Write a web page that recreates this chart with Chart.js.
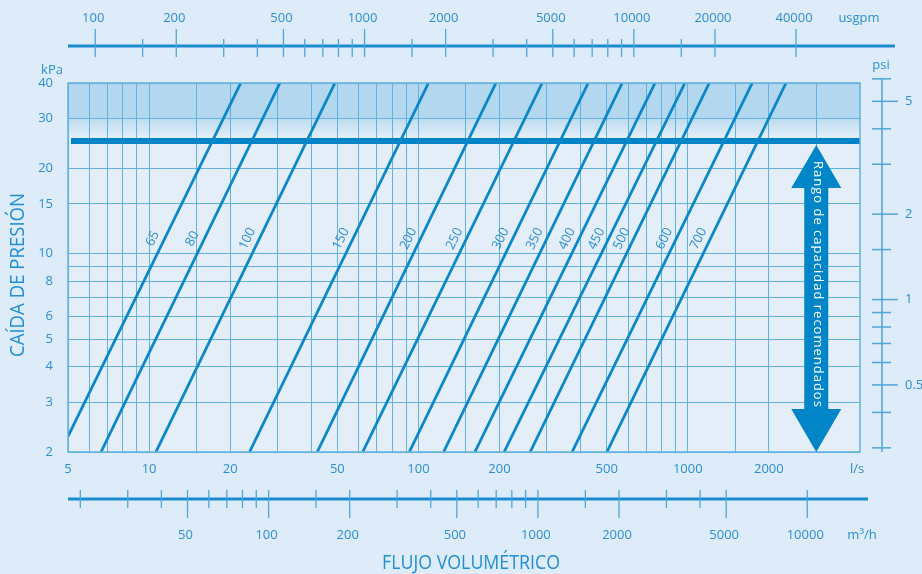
<!DOCTYPE html>
<html>
<head>
<meta charset="utf-8">
<script src="https://cdn.jsdelivr.net/npm/chart.js@4.4.1/dist/chart.umd.min.js"></script>
<style>
  html, body { margin: 0; padding: 0; background: #deebf8; }
  #caja { width: 922px; height: 574px; }
</style>
</head>
<body>
<div id="caja"><canvas id="graficoPresion" width="922" height="574"></canvas></div>
<script>
// Tamaños (DN) de cada recta del ábaco
const tamanos = ['65', '80', '100', '150', '200', '250', '300', '350', '400', '450', '500', '600', '700'];
// Punto inicial de cada recta (l/s y kPa)
const caudalInicio = [5, 6.63, 10.6, 23.6, 42.1, 62.1, 92.5, 124, 162, 208, 260, 372, 501];
const presionInicio = [2.27, 2, 2, 2, 2, 2, 2, 2, 2, 2, 2, 2, 2];
// Punto final de cada recta (arriba del gráfico, 40 kPa)
const caudalFin = [21.9, 30.6, 49.0, 109, 194, 288, 427, 571, 756, 976, 1202, 1736, 2316];
const presionFin = [40, 40, 40, 40, 40, 40, 40, 40, 40, 40, 40, 40, 40];

// Línea gruesa del límite recomendado (kPa)
const presionLimite = 25;
const caudalLimite = [5.13, 4360];
// Posición de la flecha "Rango de capacidad recomendados" (l/s)
const caudalFlecha = 3000;
// Presión donde se escriben los tamaños
const presionEtiqueta = 11.3;

// Eje l/s (abajo) y kPa (izquierda)
const limitesCaudal = [5, 4360];
const limitesPresion = [2, 40];
const rejillaCaudal = [5, 6, 7, 8, 9, 10, 15, 20, 30, 40, 50, 60, 70, 80, 90, 100, 150, 200, 300, 400, 500, 600, 700, 800, 900, 1000, 1500, 2000, 3000];
const etiquetasCaudal = [5, 10, 20, 50, 100, 200, 500, 1000, 2000];
const rejillaPresion = [2, 3, 4, 5, 6, 7, 8, 9, 10, 15, 20, 30, 40];
const etiquetasPresion = [2, 3, 4, 5, 6, 8, 10, 15, 20, 30, 40];

// Eje usgpm (arriba)
const usgpmMayores = [100, 200, 500, 1000, 2000, 5000, 10000, 20000, 40000];
const usgpmMenores = [150, 300, 400, 600, 700, 800, 900, 1500, 3000, 4000, 6000, 7000, 8000, 9000, 15000];
// Eje m3/h (abajo)
const m3hMayores = [50, 100, 200, 500, 1000, 2000, 5000, 10000];
const m3hMenores = [20, 30, 40, 60, 70, 80, 90, 150, 300, 400, 600, 700, 800, 900, 1500, 3000, 4000];
// Eje psi (derecha)
const psiMayores = [0.5, 1, 2, 5];
const psiMenores = [0.3, 0.4, 0.6, 0.7, 0.8, 0.9, 1.5, 3, 4, 6];

const AZUL = '#0a87c9';
const TEXTO = '#2a8fd3';
const REJILLA = '#62b2e0';
const FUENTE = "'Open Sans', 'Noto Sans', sans-serif";

// Conjuntos de datos: una recta por tamaño
const conjuntos = tamanos.map((t, i) => ({
    label: 'DN ' + t,
    data: [{ x: caudalInicio[i], y: presionInicio[i] }, { x: caudalFin[i], y: presionFin[i] }],
    borderColor: AZUL,
    borderWidth: 2.8,
    pointRadius: 0
}));
conjuntos.push({
    label: 'Límite',
    data: [{ x: caudalLimite[0], y: presionLimite }, { x: caudalLimite[1], y: presionLimite }],
    borderColor: '#0086c8',
    borderWidth: 6,
    pointRadius: 0
});

// Dibuja un eje secundario horizontal (usgpm o m3/h) usando la escala x en l/s
function ejeHorizontal(ctx, escala, factor, yLinea, x0, x1, mayores, menores, arribaMayor, arribaMenor, abajoMayor, abajoMenor, yTexto, unidad, xUnidad) {
    ctx.strokeStyle = '#1a8ccf';
    ctx.lineWidth = 3;
    ctx.beginPath(); ctx.moveTo(x0, yLinea); ctx.lineTo(x1, yLinea); ctx.stroke();
    ctx.strokeStyle = '#4ea6dc';
    ctx.lineWidth = 1.3;
    menores.forEach(v => {
        const px = escala.getPixelForValue(v / factor);
        ctx.beginPath(); ctx.moveTo(px, yLinea - arribaMenor); ctx.lineTo(px, yLinea + abajoMenor); ctx.stroke();
    });
    ctx.fillStyle = TEXTO;
    ctx.font = '13px ' + FUENTE;
    ctx.textAlign = 'center';
    ctx.textBaseline = 'middle';
    mayores.forEach(v => {
        const px = escala.getPixelForValue(v / factor);
        ctx.beginPath(); ctx.moveTo(px, yLinea - arribaMayor); ctx.lineTo(px, yLinea + abajoMayor); ctx.stroke();
        ctx.fillText(String(v), px - 2, yTexto);
    });
    ctx.fillText(unidad, xUnidad, yTexto);
}

const extras = {
    id: 'extras',
    beforeDraw(chart) {
        const { ctx, chartArea: a, scales: { y } } = chart;
        ctx.save();
        ctx.fillStyle = '#e3eef9';
        ctx.fillRect(a.left, a.top, a.right - a.left, a.bottom - a.top);
        // Franja sombreada por encima del límite
        const y40 = y.getPixelForValue(40);
        const y30 = y.getPixelForValue(30);
        const yLim = y.getPixelForValue(presionLimite) - 3;
        ctx.fillStyle = '#b3d7ee';
        ctx.fillRect(a.left, y40, a.right - a.left, y30 - y40);
        const g = ctx.createLinearGradient(0, y30, 0, yLim);
        g.addColorStop(0, '#bcdcf0');
        g.addColorStop(1, '#e3eef9');
        ctx.fillStyle = g;
        ctx.fillRect(a.left, y30, a.right - a.left, yLim - y30);
        ctx.restore();
    },
    afterDraw(chart) {
        const { ctx, chartArea: a, scales: { x, y } } = chart;
        ctx.save();
        // Borde del área
        ctx.strokeStyle = REJILLA;
        ctx.lineWidth = 1.5;
        ctx.strokeRect(a.left, a.top, a.right - a.left, a.bottom - a.top);

        // Tamaños sobre las rectas
        ctx.fillStyle = TEXTO;
        ctx.font = '13px ' + FUENTE;
        ctx.textAlign = 'center';
        ctx.textBaseline = 'middle';
        tamanos.forEach((t, i) => {
            const x0 = x.getPixelForValue(caudalInicio[i]), y0 = y.getPixelForValue(presionInicio[i]);
            const x1 = x.getPixelForValue(caudalFin[i]), y1 = y.getPixelForValue(presionFin[i]);
            const yt = y.getPixelForValue(presionEtiqueta);
            const xt = x0 + (yt - y0) * (x1 - x0) / (y1 - y0);
            ctx.save();
            ctx.translate(xt - 12, yt);
            ctx.rotate(Math.atan2(y1 - y0, x1 - x0));
            ctx.fillText(t, 0, 0);
            ctx.restore();
        });

        // Flecha doble del rango recomendado
        const xa = x.getPixelForValue(caudalFlecha);
        const ySup = y.getPixelForValue(presionLimite) + 4;
        const yInf = y.getPixelForValue(limitesPresion[0]);
        ctx.fillStyle = '#0085c8';
        ctx.beginPath();
        ctx.moveTo(xa, ySup);
        ctx.lineTo(xa + 25, ySup + 43);
        ctx.lineTo(xa + 12, ySup + 43);
        ctx.lineTo(xa + 12, yInf - 43);
        ctx.lineTo(xa + 25, yInf - 43);
        ctx.lineTo(xa, yInf);
        ctx.lineTo(xa - 25, yInf - 43);
        ctx.lineTo(xa - 12, yInf - 43);
        ctx.lineTo(xa - 12, ySup + 43);
        ctx.lineTo(xa - 25, ySup + 43);
        ctx.closePath();
        ctx.fill();
        ctx.save();
        ctx.translate(xa + 1, (ySup + yInf) / 2 - 14);
        ctx.rotate(Math.PI / 2);
        ctx.fillStyle = '#ffffff';
        ctx.font = '13px ' + FUENTE;
        ctx.letterSpacing = '1px';
        ctx.fillText('Rango de capacidad recomendados', 0, 0);
        ctx.restore();

        // Eje superior usgpm (1 l/s = 15.85 usgpm)
        ejeHorizontal(ctx, x, 15.85, 46, a.left, 895, usgpmMayores, usgpmMenores, 17, 7, 11, 11, 18, 'usgpm', 859);
        // Eje inferior m3/h (1 l/s = 3.6 m3/h)
        ejeHorizontal(ctx, x, 3.6, 499, a.left, 868, m3hMayores, m3hMenores, 9, 9, 19, 9, 535, '', 0);
        ctx.fillText('m³/h', 862, 535);
        ctx.fillText('l/s', 857, 469);
        ctx.fillText('kPa', 52, 70);

        // Eje derecho psi (1 psi = 6.895 kPa)
        const xp = 882;
        ctx.strokeStyle = '#4ea6dc';
        ctx.lineWidth = 1.5;
        ctx.beginPath(); ctx.moveTo(xp, 79); ctx.lineTo(xp, yInf); ctx.stroke();
        psiMenores.forEach(v => {
            const py = y.getPixelForValue(v * 6.895);
            ctx.beginPath(); ctx.moveTo(xp - 10, py); ctx.lineTo(xp + 9, py); ctx.stroke();
        });
        ctx.textAlign = 'left';
        psiMayores.forEach(v => {
            const py = y.getPixelForValue(v * 6.895);
            ctx.beginPath(); ctx.moveTo(xp - 10, py); ctx.lineTo(xp + 16, py); ctx.stroke();
            ctx.fillText(String(v), 905, py);
        });
        ctx.textAlign = 'center';
        ctx.fillText('psi', 881, 65);

        // Títulos de los ejes
        ctx.font = '20px ' + FUENTE;
        ctx.fillStyle = '#1f8ed4';
        ctx.save();
        ctx.translate(18, 275);
        ctx.rotate(-Math.PI / 2);
        let w = ctx.measureText('CAÍDA DE PRESIÓN').width;
        ctx.scale(Math.min(1, 164 / w), 1);
        ctx.fillText('CAÍDA DE PRESIÓN', 0, 0);
        ctx.restore();
        ctx.save();
        ctx.translate(471, 563);
        w = ctx.measureText('FLUJO VOLUMÉTRICO').width;
        ctx.scale(Math.min(1, 178 / w), 1);
        ctx.fillText('FLUJO VOLUMÉTRICO', 0, 0);
        ctx.restore();
        ctx.restore();
    }
};

const ctx = document.getElementById('graficoPresion').getContext('2d');
const graficoPresion = new Chart(ctx, {
    type: 'line',
    data: { datasets: conjuntos },
    options: {
        responsive: false,
        animation: false,
        layout: { padding: { top: 83, right: 62, left: 0, bottom: 0 } },
        plugins: { legend: { display: false }, tooltip: { enabled: false } },
        scales: {
            x: {
                type: 'logarithmic',
                position: 'bottom',
                min: limitesCaudal[0],
                max: limitesCaudal[1],
                afterBuildTicks: s => { s.ticks = rejillaCaudal.map(v => ({ value: v })); },
                afterFit: s => { s.height = 122; },
                grid: { color: REJILLA, lineWidth: 1, drawTicks: false },
                border: { display: false },
                ticks: {
                    autoSkip: false, maxRotation: 0, padding: 9,
                    color: TEXTO, font: { family: FUENTE, size: 13 },
                    callback: v => etiquetasCaudal.includes(v) ? String(v) : ''
                }
            },
            y: {
                type: 'logarithmic',
                position: 'left',
                min: limitesPresion[0],
                max: limitesPresion[1],
                afterBuildTicks: s => { s.ticks = rejillaPresion.map(v => ({ value: v })); },
                afterFit: s => { s.width = 68; },
                grid: { color: REJILLA, lineWidth: 1, drawTicks: false },
                border: { display: false },
                ticks: {
                    autoSkip: false, padding: 15,
                    color: TEXTO, font: { family: FUENTE, size: 13 },
                    callback: v => etiquetasPresion.includes(v) ? String(v) : ''
                }
            }
        }
    },
    plugins: [extras]
});
</script>
</body>
</html>
